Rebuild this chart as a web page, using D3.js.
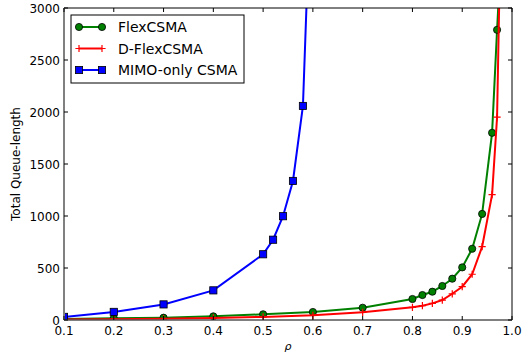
<!DOCTYPE html>
<html>
<head>
<meta charset="utf-8">
<script src="https://cdn.jsdelivr.net/npm/d3@7"></script>
<style>
  html, body { margin: 0; padding: 0; background: #fff; }
  svg { display: block; font-family: "DejaVu Sans", sans-serif; }
</style>
</head>
<body>
<svg id="chart" width="524" height="356"></svg>
<script>
// Data
const flexRho  = [0.1, 0.2, 0.3, 0.4, 0.5, 0.6, 0.7, 0.8, 0.82, 0.84, 0.86, 0.88, 0.9, 0.92, 0.94, 0.96, 0.97, 0.98];
const flexQ    = [10, 16, 22, 35, 55, 77, 118, 202, 240, 272, 327, 397, 506, 685, 1020, 1800, 2790, 3700];

const dflexRho = [0.1, 0.2, 0.3, 0.4, 0.5, 0.6, 0.7, 0.8, 0.82, 0.84, 0.86, 0.88, 0.9, 0.92, 0.94, 0.96, 0.97, 0.98];
const dflexQ   = [4, 8, 13, 20, 30, 45, 74, 122, 138, 160, 192, 252, 320, 440, 705, 1205, 1950, 4500];

const mimoRho  = [0.1, 0.2, 0.3, 0.4, 0.5, 0.52, 0.54, 0.56, 0.58, 0.6];
const mimoQ    = [30, 78, 150, 285, 632, 772, 998, 1337, 2058, 4750];

const xTicks = [0.1, 0.2, 0.3, 0.4, 0.5, 0.6, 0.7, 0.8, 0.9, 1.0];
const yTicks = [0, 500, 1000, 1500, 2000, 2500, 3000];

const seriesNames = ['FlexCSMA', 'D-FlexCSMA', 'MIMO-only CSMA'];

(function() {
    'use strict';

    const svg = d3.select('#chart');
    const margin = { top: 8, right: 12, bottom: 36, left: 64 };
    const width = 524 - margin.left - margin.right;
    const height = 356 - margin.top - margin.bottom;

    const x = d3.scaleLinear().domain([0.1, 1.0]).range([0, width]);
    const y = d3.scaleLinear().domain([0, 3000]).range([height, 0]);

    const g = svg.append('g')
        .attr('transform', `translate(${margin.left},${margin.top})`);

    svg.append('defs').append('clipPath')
        .attr('id', 'plot-clip')
        .append('rect')
        .attr('x', 0).attr('y', 0)
        .attr('width', width).attr('height', height);

    const series = [
        { name: seriesNames[0], rho: flexRho, q: flexQ, color: '#008000', marker: 'circle' },
        { name: seriesNames[1], rho: dflexRho, q: dflexQ, color: '#ff0000', marker: 'plus' },
        { name: seriesNames[2], rho: mimoRho, q: mimoQ, color: '#0000ff', marker: 'square' }
    ];

    function drawMarker(sel, s, cx, cy) {
        if (s.marker === 'circle') {
            sel.append('circle')
                .attr('cx', cx).attr('cy', cy).attr('r', 3.6)
                .attr('fill', s.color).attr('stroke', '#000').attr('stroke-width', 0.8);
        } else if (s.marker === 'square') {
            sel.append('rect')
                .attr('x', cx - 3.6).attr('y', cy - 3.6)
                .attr('width', 7.2).attr('height', 7.2)
                .attr('fill', s.color).attr('stroke', '#000').attr('stroke-width', 0.8);
        } else {
            sel.append('path')
                .attr('d', `M${cx - 3.6},${cy}H${cx + 3.6}M${cx},${cy - 3.6}V${cy + 3.6}`)
                .attr('stroke', s.color).attr('stroke-width', 1.2).attr('fill', 'none');
        }
    }

    const plot = g.append('g').attr('clip-path', 'url(#plot-clip)');
    const line = d3.line().x(d => x(d[0])).y(d => y(d[1]));

    series.forEach(s => {
        const pts = s.rho.map((r, i) => [r, s.q[i]]);
        plot.append('path')
            .datum(pts)
            .attr('d', line)
            .attr('fill', 'none')
            .attr('stroke', s.color)
            .attr('stroke-width', 2);
        const mg = plot.append('g');
        pts.forEach(p => drawMarker(mg, s, x(p[0]), y(p[1])));
    });

    // Spines
    g.append('line').attr('x1', 0).attr('x2', width).attr('y1', 0).attr('y2', 0)
        .attr('stroke', '#000').attr('stroke-width', 1);
    g.append('line').attr('x1', width).attr('x2', width).attr('y1', 0).attr('y2', height)
        .attr('stroke', '#000').attr('stroke-width', 1);
    g.append('line').attr('x1', 0).attr('x2', width).attr('y1', height).attr('y2', height)
        .attr('stroke', '#555').attr('stroke-width', 1.5);
    g.append('line').attr('x1', 0).attr('x2', 0).attr('y1', 0).attr('y2', height)
        .attr('stroke', '#808080').attr('stroke-width', 2);

    // Inward ticks on all four sides
    const tickLen = 4;
    xTicks.forEach(t => {
        g.append('line').attr('x1', x(t)).attr('x2', x(t))
            .attr('y1', height).attr('y2', height - tickLen).attr('stroke', '#000');
        g.append('line').attr('x1', x(t)).attr('x2', x(t))
            .attr('y1', 0).attr('y2', tickLen).attr('stroke', '#000');
        g.append('text')
            .attr('x', x(t)).attr('y', height + 15)
            .attr('text-anchor', 'middle')
            .style('font-size', '12px')
            .text(t.toFixed(1));
    });
    yTicks.forEach(t => {
        g.append('line').attr('x1', 0).attr('x2', tickLen)
            .attr('y1', y(t)).attr('y2', y(t)).attr('stroke', '#000');
        g.append('line').attr('x1', width).attr('x2', width - tickLen)
            .attr('y1', y(t)).attr('y2', y(t)).attr('stroke', '#000');
        g.append('text')
            .attr('x', -4).attr('y', y(t) + 4.5)
            .attr('text-anchor', 'end')
            .style('font-size', '12px')
            .text(t);
    });

    // Axis labels
    g.append('text')
        .attr('transform', `translate(-44,${height / 2}) rotate(-90)`)
        .attr('text-anchor', 'middle')
        .style('font-size', '12px')
        .text('Total Queue-length');

    g.append('text')
        .attr('x', width / 2).attr('y', height + 30)
        .attr('text-anchor', 'middle')
        .style('font-size', '11px')
        .style('font-style', 'italic')
        .text('ρ');

    // Legend
    const lg = g.append('g').attr('transform', 'translate(7,7)');
    lg.append('rect')
        .attr('x', 0).attr('y', 0).attr('width', 173).attr('height', 68)
        .attr('fill', '#fff').attr('stroke', '#000').attr('stroke-width', 1);
    series.forEach((s, i) => {
        const cy = 12 + i * 21.5;
        lg.append('line')
            .attr('x1', 8).attr('x2', 31).attr('y1', cy).attr('y2', cy)
            .attr('stroke', s.color).attr('stroke-width', 2);
        drawMarker(lg, s, 8, cy);
        drawMarker(lg, s, 31, cy);
        lg.append('text')
            .attr('x', 47).attr('y', cy + 5)
            .style('font-size', '14px')
            .text(s.name);
    });
})();
</script>
</body>
</html>
